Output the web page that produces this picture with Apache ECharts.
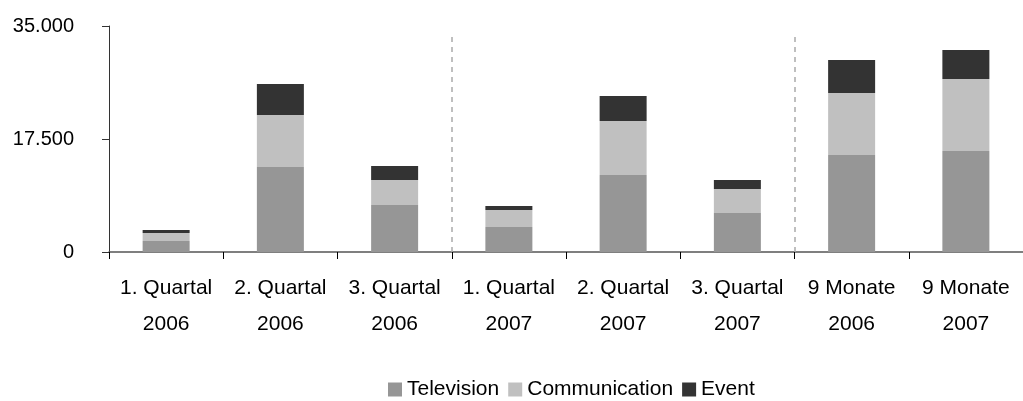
<!DOCTYPE html>
<html>
<head>
<meta charset="utf-8">
<script src="https://cdn.jsdelivr.net/npm/echarts@6/dist/echarts.min.js"></script>
<style>
html,body{margin:0;padding:0;background:#fff;}
#chart{width:1023px;height:401px;}
</style>
</head>
<body>
<div id="chart"></div>
<script>
var categories = ['1. Quartal\n2006','2. Quartal\n2006','3. Quartal\n2006','1. Quartal\n2007','2. Quartal\n2007','3. Quartal\n2007','9 Monate\n2006','9 Monate\n2007'];
var television = [1700, 13160, 7280, 3870, 11920, 6040, 15020, 15640];
var communication = [1240, 8050, 3870, 2630, 8360, 3720, 9600, 11150];
var eventVals = [460, 4800, 2170, 620, 3870, 1390, 5110, 4490];
var yTicks = [0, 17500, 35000];
var separators = [3, 6];
var separatorTop = 33600;

function fmt(v){ return String(v).replace(/\B(?=(\d{3})+(?!\d))/g, '.'); }

var chart = echarts.init(document.getElementById('chart'), null, {renderer:'canvas'});
var font = 'Liberation Sans, Arial, sans-serif';
var sepLines = separators.map(function(s){ return [{coord:[s,0]},{coord:[s,separatorTop]}]; });

chart.setOption({
  animation:false,
  backgroundColor:'#fff',
  textStyle:{fontFamily:font},
  grid:{left:109, right:-9, top:26, bottom:149, containLabel:false},
  legend:{
    data:['Television','Communication','Event'],
    top:379, left:388, padding:0,
    itemWidth:14, itemHeight:14, itemGap:9,
    icon:'rect',
    textStyle:{fontSize:21, color:'#000', fontFamily:font}
  },
  xAxis:[{
    type:'category', data:categories, boundaryGap:true,
    axisLine:{lineStyle:{color:'#555', width:1.5}},
    axisTick:{show:true, length:7, inside:false, lineStyle:{color:'#000'}},
    axisLabel:{fontSize:21, color:'#000', lineHeight:36, margin:18, interval:0, fontFamily:font}
  },{
    type:'value', min:0, max:8, show:false
  }],
  yAxis:{
    type:'value', min:yTicks[0], max:yTicks[yTicks.length-1], interval:yTicks[1]-yTicks[0],
    axisLine:{show:true, lineStyle:{color:'#333'}},
    axisTick:{show:true, length:7, lineStyle:{color:'#333'}},
    splitLine:{show:false},
    axisLabel:{fontSize:20, color:'#000', margin:35, formatter:fmt, fontFamily:font}
  },
  series:[
    {name:'Television', type:'bar', stack:'a', data:television, barWidth:47, itemStyle:{color:'#969696'}},
    {name:'Communication', type:'bar', stack:'a', data:communication, itemStyle:{color:'#c0c0c0'}},
    {name:'Event', type:'bar', stack:'a', data:eventVals, itemStyle:{color:'#333333'}},
    {name:'sep', type:'line', xAxisIndex:1, data:[], silent:true,
     markLine:{symbol:'none', silent:true, label:{show:false},
       lineStyle:{type:[5,5], color:'#aaa', width:1.5},
       data:sepLines}}
  ]
});
</script>
</body>
</html>
